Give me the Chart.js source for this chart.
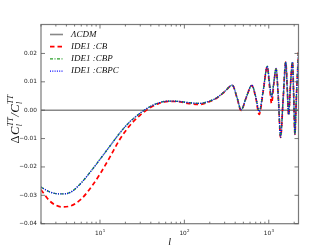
<!DOCTYPE html>
<html>
<head>
<meta charset="utf-8">
<script src="https://cdn.jsdelivr.net/npm/chart.js@4"></script>
<style>
  html, body { margin: 0; padding: 0; background: #fff; }
  #cmb { display: block; }
</style>
</head>
<body>
<canvas id="cmb" width="332" height="249"></canvas>
<script>
// multipoles and relative residuals dC_l/C_l
const ells = [2, 2.5, 3, 3.5, 4.5, 6, 8, 10, 13, 17, 22, 30, 33, 40, 50, 65, 85, 110, 150, 190,
    240, 300, 370, 420, 470, 540, 630, 700, 770, 860, 960, 1020, 1080, 1150, 1220, 1300, 1380,
    1480, 1590, 1660, 1720, 1800, 1910, 1970, 2040, 2120, 2250];

const lcdmVals = ells.map(() => 0);

const cbVals = [-0.0280, -0.0318, -0.0335, -0.0341, -0.0337, -0.0313, -0.0268, -0.0225, -0.0167,
    -0.0105, -0.0058, -0.0017, -0.0007, 0.0010, 0.0024, 0.0031, 0.0030, 0.0024, 0.0020, 0.0028,
    0.0042, 0.0065, 0.0088, 0.0044, -0.0001, 0.0044, 0.0087, 0.0045, -0.0015, 0.0068, 0.0153,
    0.0085, 0.0024, 0.0095, 0.0146, 0.0040, -0.0096, 0.0040, 0.0170, 0.0068, -0.0018, 0.0080,
    0.0170, 0.0060, -0.0085, 0.0040, 0.0205];

const cbpVals = [-0.0271, -0.0287, -0.0294, -0.0295, -0.0289, -0.0256, -0.0211, -0.0173, -0.0128,
    -0.0082, -0.0044, -0.0010, -0.0001, 0.0014, 0.0026, 0.0032, 0.0031, 0.0027, 0.0024, 0.0030,
    0.0043, 0.0066, 0.0088, 0.0045, 0.0001, 0.0045, 0.0088, 0.0048, -0.0005, 0.0070, 0.0155,
    0.0095, 0.0046, 0.0100, 0.0147, 0.0040, -0.0095, 0.0040, 0.0170, 0.0070, -0.0015, 0.0080,
    0.0170, 0.0060, -0.0084, 0.0040, 0.0206];

const cbpcVals = [-0.0271, -0.0287, -0.0294, -0.0295, -0.0289, -0.0256, -0.0211, -0.0173, -0.0128,
    -0.0082, -0.0044, -0.0010, -0.0001, 0.0014, 0.0026, 0.0032, 0.0031, 0.0027, 0.0024, 0.0030,
    0.0043, 0.0066, 0.0088, 0.0045, 0.0001, 0.0045, 0.0088, 0.0048, -0.0005, 0.0070, 0.0155,
    0.0095, 0.0046, 0.0100, 0.0147, 0.0040, -0.0095, 0.0040, 0.0170, 0.0070, -0.0015, 0.0080,
    0.0170, 0.0060, -0.0084, 0.0040, 0.0206];

const seriesNames = ['\u039bCDM', 'IDE1 :CB', 'IDE1 :CBP', 'IDE1 :CBPC'];

const yTicks = [-0.04, -0.03, -0.02, -0.01, 0, 0.01, 0.02];
const yTickLabels = ['\u22120.04', '\u22120.03', '\u22120.02', '\u22120.01', '0.00', '0.01', '0.02'];
const xMajorTicks = [10, 100, 1000];
const xTickExponents = ['1', '2', '3'];

function points(vals) {
    return ells.map((l, i) => ({ x: l, y: vals[i] }));
}

// frame, inward ticks, x tick labels, axis titles and legend
const decorPlugin = {
    id: 'decor',
    afterDraw(chart) {
        const ctx = chart.ctx;
        const a = chart.chartArea;
        const xs = chart.scales.x;
        const ys = chart.scales.y;
        ctx.save();

        // frame
        ctx.strokeStyle = '#7a7a7a';
        ctx.lineWidth = 1.2;
        ctx.strokeRect(a.left, a.top, a.right - a.left, a.bottom - a.top);

        // x ticks (log, with minors)
        ctx.lineWidth = 0.8;
        ctx.strokeStyle = '#555';
        for (let e = 0; e <= 3; e++) {
            for (let k = 1; k <= 9; k++) {
                const v = k * Math.pow(10, e);
                if (v < xs.min || v > xs.max) continue;
                const px = xs.getPixelForValue(v);
                const len = k === 1 ? 4 : 2;
                ctx.beginPath();
                ctx.moveTo(px, a.bottom); ctx.lineTo(px, a.bottom - len);
                ctx.moveTo(px, a.top); ctx.lineTo(px, a.top + len);
                ctx.stroke();
            }
        }
        // y ticks
        yTicks.forEach(v => {
            const py = ys.getPixelForValue(v);
            ctx.beginPath();
            ctx.moveTo(a.left, py); ctx.lineTo(a.left + 4, py);
            ctx.moveTo(a.right, py); ctx.lineTo(a.right - 4, py);
            ctx.stroke();
        });

        // x tick labels: 10^n
        ctx.fillStyle = '#222';
        ctx.textAlign = 'left';
        ctx.textBaseline = 'alphabetic';
        xMajorTicks.forEach((v, i) => {
            const px = xs.getPixelForValue(v);
            ctx.font = '5.8px "DejaVu Sans"';
            const w = ctx.measureText('10').width;
            ctx.font = '4px "DejaVu Sans"';
            const ws = ctx.measureText(xTickExponents[i]).width;
            const x0 = px - (w + ws) / 2;
            ctx.font = '5.8px "DejaVu Sans"';
            ctx.fillText('10', x0, a.bottom + 11);
            ctx.font = '4px "DejaVu Sans"';
            ctx.fillText(xTickExponents[i], x0 + w + 0.3, a.bottom + 8);
        });

        // x title
        ctx.font = 'italic 10px "Liberation Serif"';
        ctx.fillStyle = '#111';
        const lw = ctx.measureText('l').width;
        ctx.fillText('l', (a.left + a.right) / 2 - lw / 2, a.bottom + 21);

        // y title: dC_l^TT / C_l^TT, rotated
        ctx.save();
        ctx.translate(15, (a.top + a.bottom) / 2 - 5);
        ctx.rotate(-Math.PI / 2);
        const big = 'italic 12.5px "Liberation Serif"';
        const small = 'italic 8px "Liberation Serif"';
        const parts = [
            { t: '\u0394', f: '12.5px "Liberation Serif"' },
            { t: 'C', f: big },
            { t: 'l', f: small, sub: true, sup: 'TT' },
            { t: '/', f: big },
            { t: 'C', f: big },
            { t: 'l', f: small, sub: true, sup: 'TT' }
        ];
        let total = 0;
        parts.forEach(p => {
            ctx.font = p.f;
            p.w = ctx.measureText(p.t).width;
            if (p.sup) { ctx.font = small; p.w = Math.max(p.w, ctx.measureText(p.sup).width); }
            total += p.w + 0.5;
        });
        let cx = -total / 2;
        parts.forEach(p => {
            ctx.font = p.f;
            ctx.fillText(p.t, cx, p.sub ? 7 : 4);
            if (p.sup) {
                ctx.font = small;
                ctx.fillText(p.sup, cx, -2);
            }
            cx += p.w + 0.5;
        });
        ctx.restore();

        // legend inside the upper left corner
        const ds = chart.data.datasets;
        ctx.font = 'italic 9px "Liberation Serif"';
        ctx.textBaseline = 'middle';
        ds.forEach((d, i) => {
            const y = 34.5 + i * 12.2;
            ctx.strokeStyle = d.borderColor;
            ctx.lineWidth = d.borderWidth;
            ctx.setLineDash(d.borderDash || []);
            ctx.beginPath();
            ctx.moveTo(a.left + 9, y);
            ctx.lineTo(a.left + 22, y);
            ctx.stroke();
            ctx.setLineDash([]);
            ctx.fillStyle = '#111';
            ctx.fillText(d.label, a.left + 30, y);
        });

        ctx.restore();
    }
};

new Chart(document.getElementById('cmb'), {
    type: 'line',
    data: {
        datasets: [
            { label: seriesNames[0], data: points(lcdmVals), borderColor: '#888888', borderWidth: 1.6, order: 3 },
            { label: seriesNames[1], data: points(cbVals), borderColor: '#ff0000', borderWidth: 1.7, borderDash: [4.5, 3], order: 2 },
            { label: seriesNames[2], data: points(cbpVals), borderColor: '#2aa02a', borderWidth: 1.4, borderDash: [3, 1.5, 1, 1.5], order: 1 },
            { label: seriesNames[3], data: points(cbpcVals), borderColor: '#0000ff', borderWidth: 1.3, borderDash: [1, 1.3], order: 0 }
        ]
    },
    options: {
        responsive: false,
        animation: false,
        devicePixelRatio: 1,
        cubicInterpolationMode: 'monotone',
        elements: { point: { radius: 0 }, line: { fill: false } },
        layout: { padding: { left: 4, right: 33.5, top: 24.5, bottom: 25.3 } },
        plugins: { legend: { display: false }, tooltip: { enabled: false } },
        scales: {
            x: { type: 'logarithmic', min: 2, max: 2250, display: false },
            y: {
                type: 'linear',
                position: 'left',
                min: -0.04,
                max: 0.0302,
                grid: { display: false, drawTicks: false },
                border: { display: false },
                afterBuildTicks: scale => { scale.ticks = yTicks.map(v => ({ value: v })); },
                afterFit: scale => { scale.width = 37; },
                ticks: {
                    padding: 4,
                    color: '#222',
                    font: { family: 'DejaVu Sans', size: 5.8 },
                    callback: (value, index) => yTickLabels[index]
                }
            }
        }
    },
    plugins: [decorPlugin]
});
</script>
</body>
</html>
